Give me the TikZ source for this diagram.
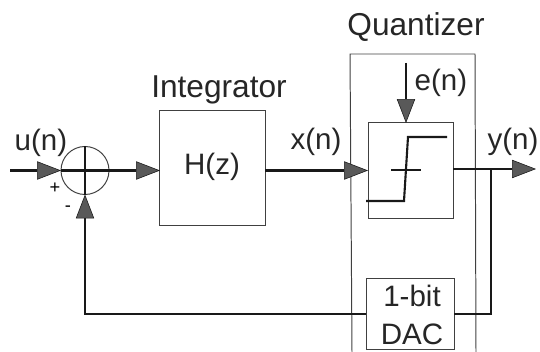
\documentclass[tikz,border=0pt]{standalone}
\usepackage{fontspec}
\setmainfont{Liberation Sans}
\usetikzlibrary{arrows.meta}
\tikzset{
  signal/.style={line width=1.5pt, black!90},
  arrowline/.style={signal, -{Triangle[length=17pt, width=13pt, fill=black!65, line width=0.4pt]}},
  blockbox/.style={draw=black!75, line width=0.7pt, inner sep=0pt, outer sep=0pt},
  sumnode/.style={circle, draw=black!75, line width=0.7pt, minimum size=1.2cm, inner sep=0pt, outer sep=0pt},
  sigtext/.style={font=\fontsize{21}{24}\selectfont, black!85},
  titletext/.style={font=\fontsize{22.5}{26}\selectfont, black!85},
  signtext/.style={font=\fontsize{13}{15}\selectfont}
}
\begin{document}
\begin{tikzpicture}[x=0.025cm, y=-0.025cm]
    \useasboundingbox (0,0) rectangle (540,352);
    % Quantizer outline, open at the bottom
    \coordinate (qbl) at (352,352);
    \coordinate (qtl) at (350,54);
    \coordinate (qtr) at (475,54);
    \coordinate (qbr) at (476,352);
    \draw[black!75, line width=0.7pt] (qbl) -- (qtl) -- (qtr) -- (qbr);

    % Blocks
    \node[sumnode] (sum) at (85,170.5) {};
    \node[blockbox, minimum width=2.625cm, minimum height=2.85cm] (hz) at (212.5,168) {};
    \node[sigtext] (hzlabel) at (212,167) {H(z)};
    \node[blockbox, minimum width=2.125cm, minimum height=2.375cm] (quant) at (410.5,170.5) {};
    \node[blockbox, minimum width=2.2cm, minimum height=1.75cm] (dac) at (410,314) {};
    \node[sigtext] (bitlabel) at (412,296) {1-bit};
    \node[sigtext] (daclabel) at (412,334) {DAC};

    % Summing junction cross
    \draw[signal] (sum.north) -- (sum.south);
    \draw[signal] (sum.west) -- (sum.east);

    % Free ends
    \coordinate (uin) at (10,170.5);
    \coordinate (yout) at (536,169);
    \coordinate (ein) at (406,63);
    \coordinate (branch) at (491,169);
    \coordinate (dacr) at (491,314);
    \coordinate (fbcorner) at (85,314);

    % Forward path
    \draw[arrowline] (uin) -- (sum.west);
    \draw[arrowline] (sum.east) -- (hz.west |- sum.east);
    \draw[arrowline] (hz.east |- sum.east) -- (quant.west);
    \draw[arrowline] (quant.east |- yout) -- (yout);
    \draw[arrowline] (ein) -- (ein |- quant.north);

    % Feedback path
    \draw[signal] (branch) -- (dacr) -- (dac.east);
    \draw[arrowline] (dac.west) -- (fbcorner) -- (sum.south);

    % Quantizer characteristic
    \coordinate (cha) at (366,201);
    \coordinate (chb) at (404,201);
    \coordinate (chc) at (408,137);
    \coordinate (chd) at (447,137);
    \draw[signal] (cha) -- (chb) -- (chc) -- (chd);
    \coordinate (axa) at (391,170);
    \coordinate (axb) at (421,170);
    \draw[signal] (axa) -- (axb);

    % Labels
    \node[titletext] (qtitle) at (416,27) {Quantizer};
    \node[titletext] (ititle) at (219,90) {Integrator};
    \node[sigtext] (ulabel) at (41,143) {u(n)};
    \node[sigtext] (xlabel) at (316,142) {x(n)};
    \node[sigtext] (ylabel) at (513,142) {y(n)};
    \node[sigtext] (elabel) at (441,83) {e(n)};
    \node[signtext] (plus) at (55,188) {+};
    \node[signtext] (minus) at (68,209) {-};
\end{tikzpicture}
\end{document}
